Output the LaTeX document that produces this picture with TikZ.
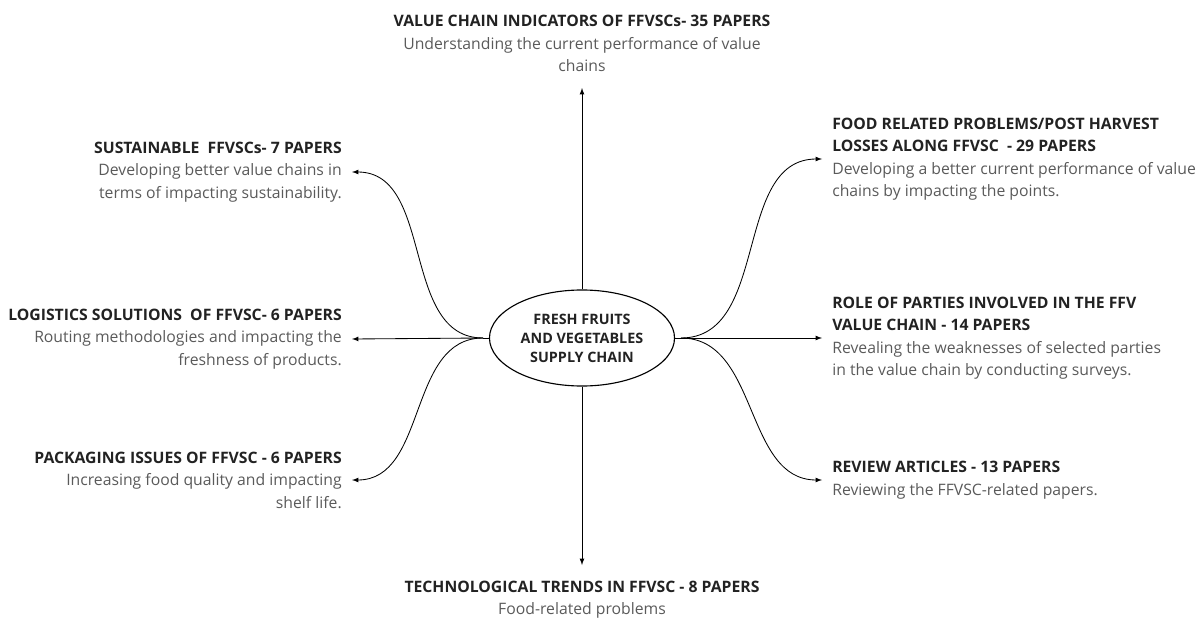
\documentclass[tikz,border=0pt]{standalone}
\usepackage{fontspec}
\setmainfont{Open Sans}
\usetikzlibrary{shapes.geometric}
\definecolor{ttlcol}{HTML}{222222}
\definecolor{dsccol}{HTML}{5A5A5A}
\newcommand{\ttl}[1]{{\bfseries\color{ttlcol}#1}}
\newcommand{\dsc}[1]{{\color{dsccol}#1}}

\begin{document}
\begin{tikzpicture}[x=0.025cm,y=-0.025cm,>=latex,line width=0.6pt,
  lbl/.style={font=\fontsize{11.2}{16}\selectfont,inner xsep=7pt,inner ysep=0pt},
  lft/.style={lbl,anchor=east,align=right},
  rgt/.style={lbl,anchor=west,align=left},
  vrt/.style={lbl,align=center,inner ysep=11pt},
  hub/.style={ellipse,draw,line width=0.8pt,minimum width=4.625cm,minimum height=2.4cm,inner sep=0pt,align=center,font=\fontsize{10.2}{13.5}\selectfont\bfseries,text=ttlcol}]
\useasboundingbox (0,0) rectangle (1199,618);

\node[hub] (hub) at (582,338) {FRESH FRUITS\\AND VEGETABLES\\SUPPLY CHAIN};
\coordinate (hubW) at (483,338);
\coordinate (hubE) at (681,338);
\draw (hub.west) -- (hubW);
\draw (hub.east) -- (hubE);

\node[vrt,anchor=south] (vci) at (582,88) {\ttl{VALUE CHAIN INDICATORS OF FFVSCs- 35 PAPERS}\\\dsc{Understanding the current performance of value}\\\dsc{chains}};
\node[vrt,anchor=north] (tech) at (582,565) {\ttl{TECHNOLOGICAL TRENDS IN FFVSC - 8 PAPERS}\\\dsc{Food-related problems}};

\node[lft] (sust) at (352,172) {\ttl{SUSTAINABLE\ \ FFVSCs- 7 PAPERS}\\\dsc{Developing better value chains in}\\\dsc{terms of impacting sustainability.}};
\node[lft] (logi) at (352,339) {\ttl{LOGISTICS SOLUTIONS\ \ OF FFVSC- 6 PAPERS}\\\dsc{Routing methodologies and impacting the}\\\dsc{freshness of products.}};
\node[lft] (pack) at (352,480) {\ttl{PACKAGING ISSUES OF FFVSC - 6 PAPERS}\\\dsc{Increasing food quality and impacting}\\\dsc{shelf life.}};

\node[rgt] (food) at (822,159) {\ttl{FOOD RELATED PROBLEMS/POST HARVEST}\\\ttl{LOSSES ALONG FFVSC\ \ - 29 PAPERS}\\\dsc{Developing a better current performance of value}\\\dsc{chains by impacting the points.}};
\node[rgt] (role) at (822,338) {\ttl{ROLE OF PARTIES INVOLVED IN THE FFV}\\\ttl{VALUE CHAIN - 14 PAPERS}\\\dsc{Revealing the weaknesses of selected parties}\\\dsc{in the value chain by conducting surveys.}};
\node[rgt] (revw) at (822,480) {\ttl{REVIEW ARTICLES - 13 PAPERS}\\\dsc{Reviewing the FFVSC-related papers.}};

\draw[->] (hub.north) -- (vci.south);
\draw[->] (hub.south) -- (tech.north);

\draw[->] (hubW) to[out=180,in=0] (sust.east);
\draw[->] (hubW) -- (logi.east);
\draw[->] (hubW) to[out=180,in=0] (pack.east);

\draw[->] (hubE) to[out=0,in=180] (food.west);
\draw[->] (hubE) -- (role.west);
\draw[->] (hubE) to[out=0,in=180] (revw.west);
\end{tikzpicture}
\end{document}
